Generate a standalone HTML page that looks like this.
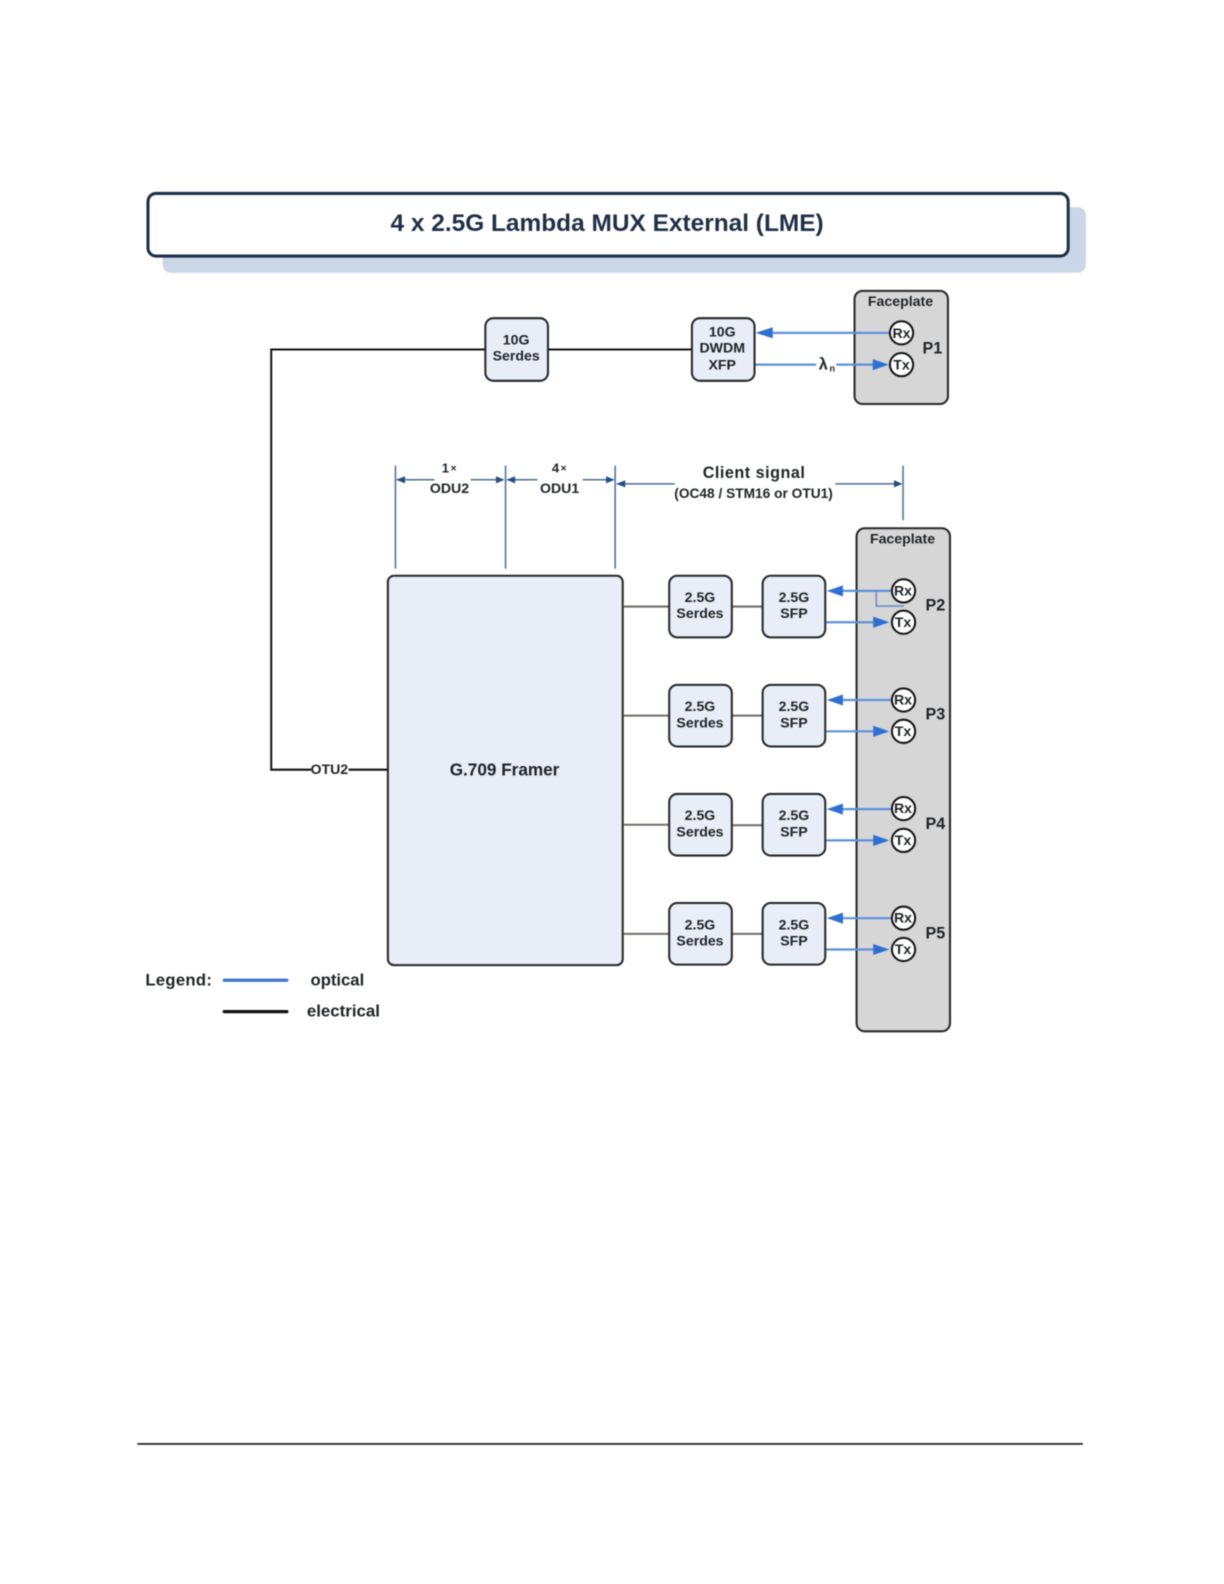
<!DOCTYPE html>
<html><head><meta charset="utf-8"><style>
html,body{margin:0;padding:0;background:#fff;overflow:hidden}
svg{display:block;filter:blur(0.5px)}
text{font-family:"Liberation Sans",sans-serif;font-weight:bold;fill:#1f2326;text-anchor:middle}
.b{fill:#e8edf7;stroke:#222626;stroke-width:2}
.f{fill:#d6d6d6;stroke:#262626;stroke-width:2}
.c{fill:#fff;stroke:#141414;stroke-width:2}
.o{stroke:#5f90da;stroke-width:2.200;fill:none}
.a{fill:#2f6fd0}
.g{stroke:#6e6e68;stroke-width:2;fill:none}
.k{stroke:#111;stroke-width:2;fill:none}
.d{stroke:#4a6c96;stroke-width:1.500;fill:none}
.h{fill:#234f86}
.s{font-size:14px}
</style></head><body>
<svg width="1224" height="1584" viewBox="0 0 1211.760 1568.160" xmlns="http://www.w3.org/2000/svg">
<rect x="161" y="205" width="914" height="65" rx="8" fill="#cbd7e6"/>
<rect x="146.500" y="191.500" width="911" height="62" rx="8" fill="#fff" stroke="#1c2f48" stroke-width="3"/>
<text x="601" y="228.500" font-size="24.200" style="fill:#1f2f48">4 x 2.5G Lambda MUX External (LME)</text>

<path class="k" d="M481 346H268.500V762H308M345 762H384M543 346H685"/>
<text x="326" y="766.500" font-size="14">OTU2</text>
<rect class="b" x="480.500" y="315" width="62" height="62" rx="8"/>
<text class="s" x="511" y="341">10G</text><text class="s" x="511" y="357">Serdes</text>
<rect class="b" x="685" y="315" width="62" height="62" rx="8"/>
<text class="s" x="715" y="333">10G</text><text class="s" x="715" y="349">DWDM</text><text class="s" x="715" y="366">XFP</text>

<rect class="f" x="846" y="288" width="92.500" height="112" rx="8"/>
<text class="s" x="891.500" y="303">Faceplate</text>
<text x="923" y="350" font-size="16">P1</text>
<path class="o" d="M760 329.500H882M748 361H808M828 361H866"/>
<path class="a" d="M748 329.500L765 324V335Z"/>
<path class="a" d="M880 361L864 355.500V366.500Z"/>
<text x="815" y="366" font-size="16">λ</text><text x="824" y="368" font-size="9" font-weight="normal">n</text>
<circle class="c" cx="892.500" cy="329.500" r="11.500"/><text class="s" x="892.500" y="334.500">Rx</text>
<circle class="c" cx="892.500" cy="361" r="11.500"/><text class="s" x="892.500" y="366">Tx</text>

<path class="d" d="M391.500 461V563M500.500 461V563M609 461V563M894 461V515M393 475H430M466 475H498M502 475H532M577 475H607M611 479H668M827 479H892"/>
<path class="h" d="M392 475L401 471.500V478.500ZM499.500 475L491 471.500V478.500ZM501.500 475L510 471.500V478.500ZM608.500 475L600 471.500V478.500ZM610 479L619 475.500V482.500ZM893.500 479L885 475.500V482.500Z"/>
<text x="441" y="468" font-size="13">1</text><text x="449" y="467" font-size="10" font-weight="normal">×</text>
<text x="550" y="468" font-size="13">4</text><text x="558" y="467" font-size="10" font-weight="normal">×</text>
<text class="s" x="445" y="488">ODU2</text><text class="s" x="554" y="488">ODU1</text>
<text x="746.500" y="473" font-size="16" letter-spacing=".5">Client signal</text>
<text x="746" y="493" font-size="13.600">(OC48 / STM16 or OTU1)</text>

<rect class="f" x="848" y="523" width="92.500" height="498" rx="8"/>
<text class="s" x="893.500" y="538">Faceplate</text>

<rect class="b" x="384" y="570" width="232.500" height="385.500" rx="6"/>
<text x="499.500" y="767.500" font-size="17">G.709 Framer</text>

<!-- row 1 -->
<path class="g" d="M617 600.500H662M725 600.500H755"/>
<rect class="b" x="662.500" y="570" width="62" height="61" rx="8"/>
<text class="s" x="693" y="596">2.5G</text><text class="s" x="693" y="612">Serdes</text>
<rect class="b" x="755" y="570" width="62" height="61" rx="8"/>
<text class="s" x="786" y="596">2.5G</text><text class="s" x="786" y="612">SFP</text>
<path class="o" d="M830 585H884M818 616H866"/>
<path class="a" d="M818.500 585L834.500 579.500V590.500Z"/><path class="a" d="M880.500 616L864.500 610.500V621.500Z"/>
<path d="M867.500 585V600H895" fill="none" stroke="#6a8fc8" stroke-width="1.500"/>
<circle class="c" cx="894.500" cy="585" r="11.500"/><text class="s" x="894" y="589.500">Rx</text>
<circle class="c" cx="894.500" cy="616" r="11.500"/><text class="s" x="894" y="620.500">Tx</text>
<text x="926" y="604.500" font-size="16">P2</text>

<!-- row 2 -->
<path class="g" d="M617 708.500H662M725 708.500H755"/>
<rect class="b" x="662.500" y="678" width="62" height="61" rx="8"/>
<text class="s" x="693" y="704">2.5G</text><text class="s" x="693" y="720">Serdes</text>
<rect class="b" x="755" y="678" width="62" height="61" rx="8"/>
<text class="s" x="786" y="704">2.5G</text><text class="s" x="786" y="720">SFP</text>
<path class="o" d="M830 693H884M818 724H866"/>
<path class="a" d="M818.500 693L834.500 687.500V698.500Z"/><path class="a" d="M880.500 724L864.500 718.500V729.500Z"/>
<circle class="c" cx="894.500" cy="693" r="11.500"/><text class="s" x="894" y="697.500">Rx</text>
<circle class="c" cx="894.500" cy="724" r="11.500"/><text class="s" x="894" y="728.500">Tx</text>
<text x="926" y="712.500" font-size="16">P3</text>

<!-- row 3 -->
<path class="g" d="M617 816.500H662M725 817H755"/>
<rect class="b" x="662.500" y="786" width="62" height="61" rx="8"/>
<text class="s" x="693" y="812">2.5G</text><text class="s" x="693" y="828">Serdes</text>
<rect class="b" x="755" y="786" width="62" height="61" rx="8"/>
<text class="s" x="786" y="812">2.5G</text><text class="s" x="786" y="828">SFP</text>
<path class="o" d="M830 801H884M818 832H866"/>
<path class="a" d="M818.500 801L834.500 795.500V806.500Z"/><path class="a" d="M880.500 832L864.500 826.500V837.500Z"/>
<circle class="c" cx="894.500" cy="800.500" r="11.500"/><text class="s" x="894" y="805">Rx</text>
<circle class="c" cx="894.500" cy="832" r="11.500"/><text class="s" x="894" y="836.500">Tx</text>
<text x="926" y="820.500" font-size="16">P4</text>

<!-- row 4 -->
<path class="g" d="M617 924.500H662M725 924.500H755"/>
<rect class="b" x="662.500" y="894" width="62" height="61" rx="8"/>
<text class="s" x="693" y="920">2.5G</text><text class="s" x="693" y="936">Serdes</text>
<rect class="b" x="755" y="894" width="62" height="61" rx="8"/>
<text class="s" x="786" y="920">2.5G</text><text class="s" x="786" y="936">SFP</text>
<path class="o" d="M830 909H884M818 940H866"/>
<path class="a" d="M818.500 909L834.500 903.500V914.500Z"/><path class="a" d="M880.500 940L864.500 934.500V945.500Z"/>
<circle class="c" cx="894.500" cy="909" r="11.500"/><text class="s" x="894" y="913.500">Rx</text>
<circle class="c" cx="894.500" cy="940" r="11.500"/><text class="s" x="894" y="944.500">Tx</text>
<text x="926" y="929" font-size="16">P5</text>

<!-- legend -->
<text x="177" y="975.500" font-size="16.500" letter-spacing=".3">Legend:</text>
<line x1="222" y1="970.500" x2="284" y2="970.500" stroke="#3f77d2" stroke-width="3.200" stroke-linecap="round"/>
<line x1="222" y1="1001.500" x2="284" y2="1001.500" stroke="#111" stroke-width="3.200" stroke-linecap="round"/>
<text x="334" y="975.500" font-size="16.500">optical</text>
<text x="340" y="1006.500" font-size="16.700">electrical</text>

<line x1="136" y1="1429.500" x2="1072" y2="1429.500" stroke="#111" stroke-width="1.600"/>
</svg>
</body></html>
